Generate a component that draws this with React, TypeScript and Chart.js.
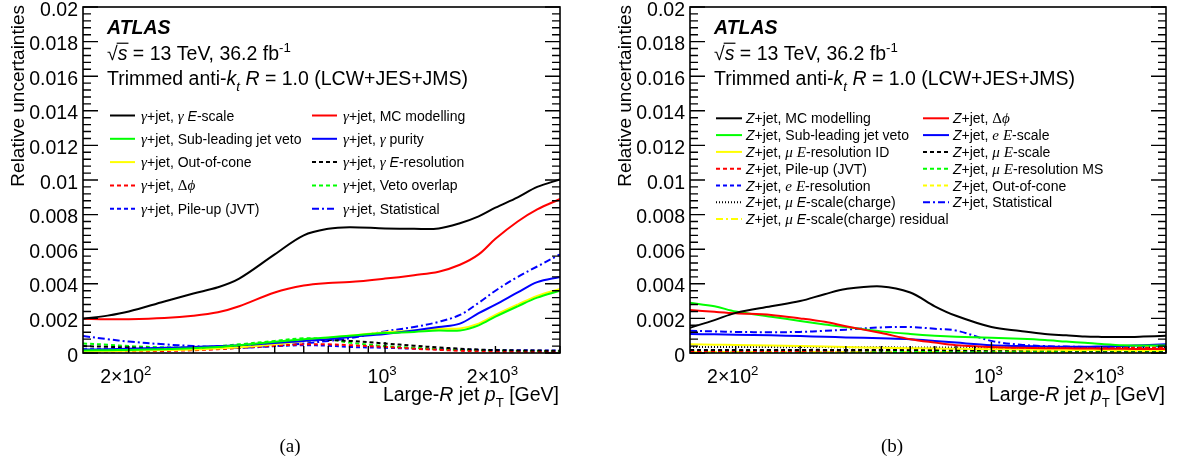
import React, { useEffect, useRef } from 'react';
import { Chart, registerables } from 'chart.js';

Chart.register(...registerables);

// ---------------- DATA ----------------
const PT = [150, 175, 200, 250, 300, 350, 400, 500, 600, 700, 800, 1000, 1200, 1400, 1600, 1800, 2000, 2300, 2600, 3000];

// Panel (a): gamma+jet
const gEScale = [0.00198, 0.00216, 0.0024, 0.00298, 0.00344, 0.0038, 0.0043, 0.0057, 0.0068, 0.00718, 0.00727, 0.0072, 0.00718, 0.0072, 0.0075, 0.0079, 0.0084, 0.009, 0.0096, 0.01003];
const gMCModelling = [0.00198, 0.00195, 0.00195, 0.00202, 0.00215, 0.00235, 0.0027, 0.0035, 0.0039, 0.00405, 0.0041, 0.0043, 0.0045, 0.0047, 0.0051, 0.0057, 0.0066, 0.0076, 0.0083, 0.0089];
const gSubLeading = [0.00015, 0.00016, 0.00018, 0.00022, 0.00028, 0.00035, 0.00045, 0.00065, 0.0008, 0.0009, 0.001, 0.00115, 0.00122, 0.0013, 0.0013, 0.0016, 0.0021, 0.0027, 0.0032, 0.0036];
const gPurity = [0.0002, 0.00022, 0.00025, 0.0003, 0.00035, 0.0004, 0.00045, 0.00058, 0.0007, 0.0008, 0.00092, 0.0011, 0.0013, 0.0015, 0.0017, 0.0023, 0.0028, 0.0035, 0.0041, 0.0044];
const gOutOfCone = [0.0001, 0.00011, 0.00013, 0.00017, 0.0002, 0.00026, 0.00033, 0.0005, 0.0007, 0.00088, 0.001, 0.0012, 0.0013, 0.0014, 0.00142, 0.0017, 0.0022, 0.0028, 0.0033, 0.0037];
const gEResolution = [0.0004, 0.00036, 0.00032, 0.00028, 0.00028, 0.00033, 0.0004, 0.00055, 0.0007, 0.00075, 0.0007, 0.00055, 0.00042, 0.00032, 0.00025, 0.0002, 0.00017, 0.00015, 0.00014, 0.00013];
const gDeltaPhi = [0.00008, 0.00009, 0.0001, 0.00012, 0.00016, 0.00022, 0.0003, 0.00042, 0.0005, 0.0005, 0.00045, 0.00035, 0.00025, 0.00018, 0.00013, 0.0001, 0.00008, 0.00007, 0.00006, 0.00005];
const gVetoOverlap = [0.00055, 0.00048, 0.0004, 0.00033, 0.00033, 0.0004, 0.0005, 0.0007, 0.00085, 0.0008, 0.0006, 0.0004, 0.0003, 0.00022, 0.00018, 0.00015, 0.00013, 0.00012, 0.00011, 0.0001];
const gPileUp = [0.00022, 0.00021, 0.0002, 0.0002, 0.00022, 0.00026, 0.0003, 0.0004, 0.00045, 0.00042, 0.00035, 0.0003, 0.00025, 0.00022, 0.0002, 0.00018, 0.00017, 0.00016, 0.00015, 0.00015];
const gStatistical = [0.00098, 0.0008, 0.00066, 0.0005, 0.0004, 0.00033, 0.0003, 0.0004, 0.00055, 0.0007, 0.00085, 0.00125, 0.0015, 0.0018, 0.0022, 0.0029, 0.0036, 0.0044, 0.005, 0.0057];

// Panel (b): Z+jet
const zMCModelling = [0.00146, 0.0019, 0.00232, 0.0027, 0.003, 0.0034, 0.0037, 0.00385, 0.0035, 0.0027, 0.00215, 0.0015, 0.00127, 0.0011, 0.00102, 0.00095, 0.00093, 0.00092, 0.00095, 0.001];
const zDeltaPhi = [0.00248, 0.00238, 0.0023, 0.0022, 0.002, 0.0018, 0.00155, 0.00115, 0.0008, 0.0006, 0.00045, 0.00035, 0.0003, 0.00028, 0.00027, 0.00026, 0.00025, 0.00024, 0.00023, 0.00023];
const zSubLeading = [0.0029, 0.0027, 0.0024, 0.0021, 0.00185, 0.00165, 0.0015, 0.00125, 0.0011, 0.001, 0.00094, 0.00088, 0.00082, 0.00075, 0.00066, 0.00059, 0.00052, 0.00045, 0.00043, 0.00043];
const zElEScale = [0.0011, 0.00108, 0.00106, 0.00102, 0.00098, 0.00094, 0.0009, 0.00085, 0.0008, 0.0007, 0.0006, 0.00045, 0.0004, 0.00037, 0.00036, 0.00036, 0.00038, 0.00041, 0.00045, 0.0005];
const zMuEResID = [0.0005, 0.00048, 0.00046, 0.00043, 0.0004, 0.00037, 0.00034, 0.0003, 0.00028, 0.00026, 0.00024, 0.00022, 0.0002, 0.00019, 0.00018, 0.00018, 0.00018, 0.00018, 0.00018, 0.00018];
const zMuEScale = [0.00018, 0.00018, 0.00018, 0.00018, 0.00018, 0.00018, 0.00017, 0.00017, 0.00017, 0.00017, 0.00016, 0.00016, 0.00016, 0.00016, 0.00015, 0.00015, 0.00015, 0.00015, 0.00015, 0.00015];
const zPileUp = [0.0001, 0.0001, 0.0001, 0.00011, 0.00012, 0.00013, 0.00014, 0.00016, 0.00018, 0.0002, 0.00022, 0.00024, 0.00026, 0.00027, 0.00028, 0.00029, 0.0003, 0.0003, 0.0003, 0.0003];
const zMuEResMS = [0.00004, 0.00004, 0.00004, 0.00004, 0.00005, 0.00005, 0.00005, 0.00006, 0.00006, 0.00007, 0.00007, 0.00008, 0.00008, 0.00009, 0.00009, 0.0001, 0.0001, 0.0001, 0.0001, 0.0001];
const zElEResolution = [0.0001, 0.0001, 0.0001, 0.0001, 0.0001, 0.0001, 0.0001, 0.00009, 0.00009, 0.00009, 0.00009, 0.00008, 0.00008, 0.00008, 0.00008, 0.00008, 0.00008, 0.00008, 0.00008, 0.00008];
const zOutOfCone = [0.00012, 0.00012, 0.00012, 0.00013, 0.00014, 0.00015, 0.00016, 0.00018, 0.0002, 0.00022, 0.00024, 0.00026, 0.00028, 0.0003, 0.00031, 0.00032, 0.00033, 0.00033, 0.00033, 0.00033];
const zMuEScaleCharge = [0.00035, 0.00035, 0.00035, 0.00034, 0.00034, 0.00034, 0.00033, 0.00033, 0.00032, 0.00032, 0.00032, 0.00031, 0.00031, 0.00031, 0.0003, 0.0003, 0.0003, 0.0003, 0.0003, 0.0003];
const zStatistical = [0.00128, 0.00125, 0.00122, 0.0012, 0.00122, 0.00128, 0.00135, 0.00148, 0.0015, 0.0014, 0.0013, 0.0007, 0.00048, 0.0004, 0.00037, 0.00035, 0.00035, 0.00036, 0.00037, 0.0004];
const zMuChargeResidual = [0.00006, 0.00006, 0.00006, 0.00006, 0.00006, 0.00006, 0.00006, 0.00006, 0.00006, 0.00006, 0.00006, 0.00006, 0.00006, 0.00006, 0.00006, 0.00006, 0.00006, 0.00006, 0.00006, 0.00006];

// Axis ticks
const X_MIN = 150;
const X_MAX = 3000;
const X_TICKS = [200, 300, 400, 500, 600, 700, 800, 900, 1000, 2000, 3000];
const X_MAJOR = [1000];
const X_LABELS: [number, string, string][] = [[200, '2×10', '2'], [1000, '10', '3'], [2000, '2×10', '3']];
const Y_MAX = 0.02;
const Y_MAJOR_STEP = 0.002;
const Y_MINOR_STEP = 0.0004;

// ---------------- STYLE HELPERS ----------------
type Seg = [string, string];
const SANS = '"Liberation Sans", Arial, Helvetica, sans-serif';
const SERIF = '"Liberation Serif", "Times New Roman", serif';

function fontFor(style: string, size: number) {
  switch (style) {
    case 'i':
    case 'ovi':
      return `italic ${size}px ${SANS}`;
    case 'bi':
      return `italic bold ${size}px ${SANS}`;
    case 'gi':
      return `italic ${size * 1.08}px ${SERIF}`;
    case 'g':
      return `${size * 1.08}px ${SERIF}`;
    case 'sup':
    case 'sub':
      return `${size * 0.68}px ${SANS}`;
    case 'subi':
      return `italic ${size * 0.68}px ${SANS}`;
    case 'serif':
      return `${size}px ${SERIF}`;
    default:
      return `${size}px ${SANS}`;
  }
}

function drawRich(ctx: CanvasRenderingContext2D, segs: Seg[], x: number, y: number, size: number, align: 'left' | 'right' | 'center' = 'left') {
  ctx.save();
  ctx.textAlign = 'left';
  ctx.textBaseline = 'alphabetic';
  ctx.fillStyle = '#000';
  let total = 0;
  const widths = segs.map(([t, s]) => {
    ctx.font = fontFor(s, size);
    const w = ctx.measureText(t).width;
    total += w;
    return w;
  });
  let cx = align === 'left' ? x : align === 'right' ? x - total : x - total / 2;
  segs.forEach(([t, s], i) => {
    ctx.font = fontFor(s, size);
    let dy = 0;
    if (s === 'sup') dy = -size * 0.42;
    if (s === 'sub' || s === 'subi') dy = size * 0.32;
    ctx.fillText(t, cx, y + dy);
    if (s === 'ovi') {
      ctx.strokeStyle = '#000';
      ctx.lineWidth = 1.2;
      ctx.beginPath();
      ctx.moveTo(cx - 1, y - size * 0.86);
      ctx.lineTo(cx + widths[i] + 1, y - size * 0.86);
      ctx.stroke();
    }
    cx += widths[i];
  });
  ctx.restore();
  return total;
}

const DASH: Record<string, number[]> = {
  solid: [],
  dashed: [4, 3],
  dotted: [1, 2],
  dashdot: [7, 3, 2, 3],
};

interface Series {
  label: Seg[];
  data: number[];
  color: string;
  dash: string;
}

interface LegendCfg {
  col1: number;
  col2: number;
  lineLen: number;
  textOff: number;
  row0: number;
  rowH: number;
}

interface PanelCfg {
  width: number;
  padLeft: number;
  padRight: number;
  series: Series[];
  legend: LegendCfg;
  panelLabel: string;
  panelLabelX: number;
}

const G: Seg = ['γ', 'gi'];
const Z: Seg = ['Z', 'i'];

const PANEL_A: PanelCfg = {
  width: 590,
  padLeft: 83,
  padRight: 30,
  panelLabel: '(a)',
  panelLabelX: 290,
  legend: { col1: 27, col2: 229, lineLen: 25, textOff: 31, row0: 115.5, rowH: 23.3 },
  series: [
    { label: [G, ['+jet, ', 'n'], G, [' ', 'n'], ['E', 'i'], ['-scale', 'n']], data: gEScale, color: '#000000', dash: 'solid' },
    { label: [G, ['+jet, MC modelling', 'n']], data: gMCModelling, color: '#ff0000', dash: 'solid' },
    { label: [G, ['+jet, Sub-leading jet veto', 'n']], data: gSubLeading, color: '#00ff00', dash: 'solid' },
    { label: [G, ['+jet, ', 'n'], G, [' purity', 'n']], data: gPurity, color: '#0000ff', dash: 'solid' },
    { label: [G, ['+jet, Out-of-cone', 'n']], data: gOutOfCone, color: '#ffff00', dash: 'solid' },
    { label: [G, ['+jet, ', 'n'], G, [' ', 'n'], ['E', 'i'], ['-resolution', 'n']], data: gEResolution, color: '#000000', dash: 'dashed' },
    { label: [G, ['+jet, ', 'n'], ['Δ', 'g'], ['ϕ', 'gi']], data: gDeltaPhi, color: '#ff0000', dash: 'dashed' },
    { label: [G, ['+jet, Veto overlap', 'n']], data: gVetoOverlap, color: '#00ff00', dash: 'dashed' },
    { label: [G, ['+jet, Pile-up (JVT)', 'n']], data: gPileUp, color: '#0000ff', dash: 'dashed' },
    { label: [G, ['+jet, Statistical', 'n']], data: gStatistical, color: '#0000ff', dash: 'dashdot' },
  ],
};

const PANEL_B: PanelCfg = {
  width: 589,
  padLeft: 100,
  padRight: 13,
  panelLabel: '(b)',
  panelLabelX: 302,
  legend: { col1: 26, col2: 233, lineLen: 26, textOff: 30, row0: 118.3, rowH: 16.8 },
  series: [
    { label: [Z, ['+jet, MC modelling', 'n']], data: zMCModelling, color: '#000000', dash: 'solid' },
    { label: [Z, ['+jet, ', 'n'], ['Δ', 'g'], ['ϕ', 'gi']], data: zDeltaPhi, color: '#ff0000', dash: 'solid' },
    { label: [Z, ['+jet, Sub-leading jet veto', 'n']], data: zSubLeading, color: '#00ff00', dash: 'solid' },
    { label: [Z, ['+jet, ', 'n'], ['e', 'gi'], [' ', 'n'], ['E', 'gi'], ['-scale', 'n']], data: zElEScale, color: '#0000ff', dash: 'solid' },
    { label: [Z, ['+jet, ', 'n'], ['μ', 'gi'], [' ', 'n'], ['E', 'gi'], ['-resolution ID', 'n']], data: zMuEResID, color: '#ffff00', dash: 'solid' },
    { label: [Z, ['+jet, ', 'n'], ['μ', 'gi'], [' ', 'n'], ['E', 'gi'], ['-scale', 'n']], data: zMuEScale, color: '#000000', dash: 'dashed' },
    { label: [Z, ['+jet, Pile-up (JVT)', 'n']], data: zPileUp, color: '#ff0000', dash: 'dashed' },
    { label: [Z, ['+jet, ', 'n'], ['μ', 'gi'], [' ', 'n'], ['E', 'gi'], ['-resolution MS', 'n']], data: zMuEResMS, color: '#00ff00', dash: 'dashed' },
    { label: [Z, ['+jet, ', 'n'], ['e', 'gi'], [' ', 'n'], ['E', 'gi'], ['-resolution', 'n']], data: zElEResolution, color: '#0000ff', dash: 'dashed' },
    { label: [Z, ['+jet, Out-of-cone', 'n']], data: zOutOfCone, color: '#ffff00', dash: 'dashed' },
    { label: [Z, ['+jet, ', 'n'], ['μ', 'gi'], [' ', 'n'], ['E', 'i'], ['-scale(charge)', 'n']], data: zMuEScaleCharge, color: '#000000', dash: 'dotted' },
    { label: [Z, ['+jet, Statistical', 'n']], data: zStatistical, color: '#0000ff', dash: 'dashdot' },
    { label: [Z, ['+jet, ', 'n'], ['μ', 'gi'], [' ', 'n'], ['E', 'i'], ['-scale(charge) residual', 'n']], data: zMuChargeResidual, color: '#ffff00', dash: 'dashdot' },
  ],
};

const HEIGHT = 467;
const PAD_TOP = 7;
const PAD_BOTTOM = 114;
const TICK_FONT = 19.5;

function makePlugin(cfg: PanelCfg) {
  return {
    id: 'atlasDecor',
    afterDraw(chart: any) {
      const ctx: CanvasRenderingContext2D = chart.ctx;
      const area = chart.chartArea;
      const xs = chart.scales.x;
      const ys = chart.scales.y;
      ctx.save();
      // frame
      ctx.strokeStyle = '#000';
      ctx.lineWidth = 1.6;
      ctx.setLineDash([]);
      ctx.strokeRect(area.left, area.top, area.right - area.left, area.bottom - area.top);

      // y ticks
      ctx.lineWidth = 1.4;
      const nMinor = Math.round(Y_MAX / Y_MINOR_STEP);
      for (let k = 0; k <= nMinor; k++) {
        const v = k * Y_MINOR_STEP;
        const py = ys.getPixelForValue(v);
        const major = k % Math.round(Y_MAJOR_STEP / Y_MINOR_STEP) === 0;
        const len = major ? 15 : 8;
        ctx.beginPath();
        ctx.moveTo(area.left, py);
        ctx.lineTo(area.left + len, py);
        ctx.moveTo(area.right, py);
        ctx.lineTo(area.right - len, py);
        ctx.stroke();
        if (major) {
          ctx.font = `${TICK_FONT}px ${SANS}`;
          ctx.fillStyle = '#000';
          ctx.textAlign = 'right';
          ctx.textBaseline = 'alphabetic';
          const label = parseFloat(v.toFixed(4)).toString();
          ctx.fillText(label, area.left - 5, py + 8.5);
        }
      }
      // x ticks
      X_TICKS.forEach((v) => {
        const px = xs.getPixelForValue(v);
        const len = X_MAJOR.includes(v) ? 11 : 7;
        ctx.beginPath();
        ctx.moveTo(px, area.bottom);
        ctx.lineTo(px, area.bottom - len);
        ctx.stroke();
      });
      X_LABELS.forEach(([v, base, sup]) => {
        const px = xs.getPixelForValue(v);
        drawRich(ctx, [[base, 'n'], [sup, 'sup']], px - 3, 383, TICK_FONT, 'center');
      });

      // axis titles
      drawRich(ctx, [['Large-', 'n'], ['R', 'i'], [' jet ', 'n'], ['p', 'i'], ['T', 'sub'], [' [GeV]', 'n']], area.right - 1, 401, 19.5, 'right');
      ctx.save();
      ctx.translate(area.left - 59, 5);
      ctx.rotate(-Math.PI / 2);
      drawRich(ctx, [['Relative uncertainties', 'n']], 0, 0, 19, 'right');
      ctx.restore();

      // header
      const hx = area.left + 24;
      drawRich(ctx, [['ATLAS', 'bi']], hx, 34, 19.5);
      drawRich(ctx, [['√', 'n'], ['s', 'ovi'], [' = 13 TeV, 36.2 fb', 'n'], ['-1', 'sup']], hx, 60, 19.5);
      drawRich(ctx, [['Trimmed anti-', 'n'], ['k', 'i'], ['t', 'subi'], [' ', 'n'], ['R', 'i'], [' = 1.0 (LCW+JES+JMS)', 'n']], hx, 85, 19.5);

      // legend
      const lg = cfg.legend;
      cfg.series.forEach((s, i) => {
        const col = i % 2 === 0 ? lg.col1 : lg.col2;
        const row = Math.floor(i / 2);
        const cy = lg.row0 + row * lg.rowH;
        const x0 = area.left + col;
        ctx.save();
        ctx.strokeStyle = s.color;
        ctx.lineWidth = 2;
        ctx.setLineDash(DASH[s.dash]);
        ctx.beginPath();
        ctx.moveTo(x0, cy);
        ctx.lineTo(x0 + lg.lineLen, cy);
        ctx.stroke();
        ctx.restore();
        drawRich(ctx, s.label, x0 + lg.textOff, cy + 5, 14);
      });

      // panel label
      drawRich(ctx, [[cfg.panelLabel, 'serif']], cfg.panelLabelX, 452, 19, 'center');
      ctx.restore();
    },
  };
}

function Panel({ cfg, left }: { cfg: PanelCfg; left: number }) {
  const ref = useRef<HTMLCanvasElement | null>(null);
  useEffect(() => {
    if (!ref.current) return;
    const chart = new Chart(ref.current, {
      type: 'line',
      data: {
        datasets: cfg.series.map((s) => ({
          label: s.label.map((p) => p[0]).join(''),
          data: PT.map((x, i) => ({ x, y: s.data[i] })),
          borderColor: s.color,
          backgroundColor: s.color,
          borderWidth: 2,
          borderDash: DASH[s.dash],
          pointRadius: 0,
          fill: false,
          tension: 0.35,
        })),
      },
      options: {
        responsive: false,
        maintainAspectRatio: false,
        animation: false,
        events: [],
        layout: { padding: { left: cfg.padLeft, right: cfg.padRight, top: PAD_TOP, bottom: PAD_BOTTOM } },
        scales: {
          x: { type: 'logarithmic', min: X_MIN, max: X_MAX, display: false },
          y: { type: 'linear', min: 0, max: Y_MAX, display: false },
        },
        plugins: {
          legend: { display: false },
          tooltip: { enabled: false },
        },
      },
      plugins: [makePlugin(cfg)],
    } as any);
    return () => chart.destroy();
  }, [cfg]);
  return (
    <canvas
      ref={ref}
      width={cfg.width}
      height={HEIGHT}
      style={{ position: 'absolute', left, top: 0, width: cfg.width, height: HEIGHT, display: 'block' }}
    />
  );
}

export default function App() {
  return (
    <div style={{ position: 'absolute', left: 0, top: 0, width: 1179, height: HEIGHT, background: '#fff', overflow: 'hidden' }}>
      <Panel cfg={PANEL_A} left={0} />
      <Panel cfg={PANEL_B} left={590} />
    </div>
  );
}
